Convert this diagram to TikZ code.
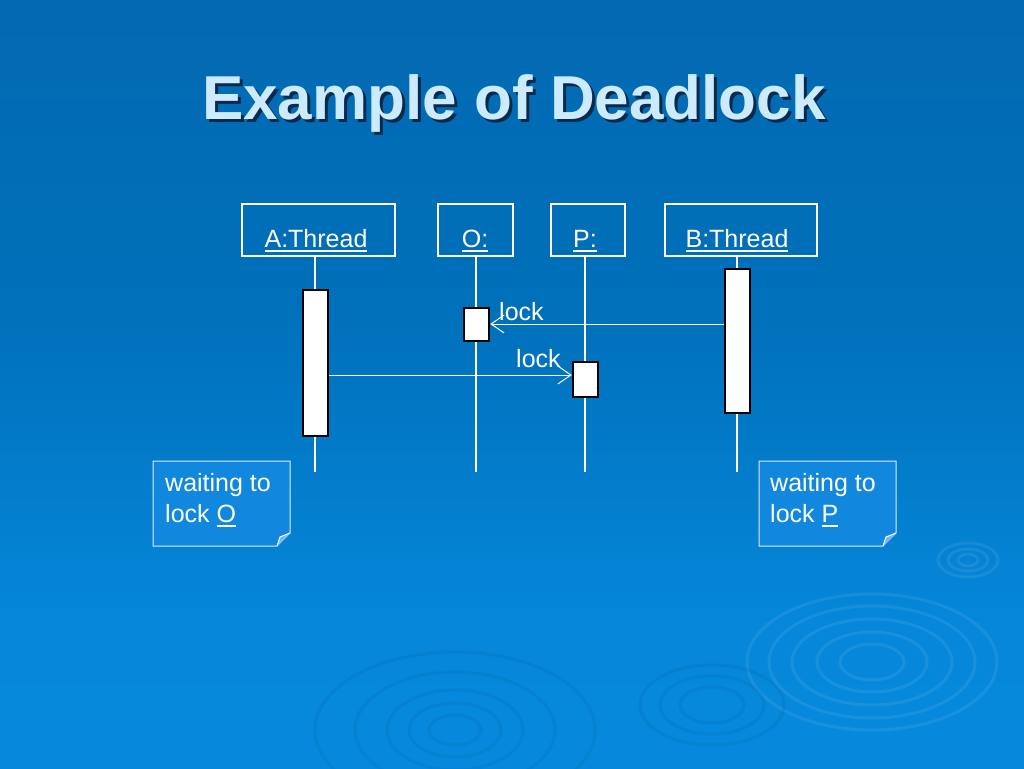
\documentclass[tikz,border=0pt]{standalone}
\usepackage{fontspec}
\setmainfont{Liberation Sans}
\usetikzlibrary{arrows.meta}
\definecolor{bgtop}{HTML}{0562A8}
\definecolor{bgmid}{HTML}{0070BA}
\definecolor{bgbot}{HTML}{0890E6}
\definecolor{notefill}{HTML}{1188DD}
\definecolor{titlecol}{HTML}{CDEBFF}
\definecolor{titleshadow}{HTML}{0A2A4A}
\pgfdeclareverticalshading{slidebg}{100bp}{color(0bp)=(bgbot); color(35bp)=(bgbot!70!bgmid); color(55bp)=(bgmid); color(100bp)=(bgtop)}
\newcommand\myul[1]{\setbox0\hbox{#1}\rlap{\rule[-4.5pt]{\wd0}{1.6pt}}\box0}
\newcommand\shadowed[1]{\rlap{\hspace{3pt}\raisebox{-3pt}{\color{titleshadow}#1}}#1}
\tikzset{
  lifebox/.style={draw=white, line width=2.5pt, minimum height=52pt, inner sep=0pt},
  lifetext/.style={text=white, font=\fontsize{25}{29}\selectfont, anchor=base, inner sep=0pt},
  lifeline/.style={draw=white, line width=2pt},
  actbox/.style={draw=black, fill=white, line width=2.5pt, minimum width=25pt, inner sep=0pt},
  msg/.style={draw=white, line width=1pt, -{Straight Barb[length=13pt,width=18pt,line width=1pt]}},
  msglabel/.style={text=white, font=\fontsize{25}{29}\selectfont, inner sep=0pt},
  notebox/.style={fill=notefill, draw=white!85!notefill, line width=1pt},
  notetext/.style={text=white, font=\fontsize{25}{31}\selectfont, align=left, inner sep=0pt, anchor=base west},
  ripple/.style={draw=white, opacity=0.08, line width=3pt},
  rippled/.style={draw=black, opacity=0.05, line width=3pt}
}
\begin{document}
\begin{tikzpicture}[x=1pt,y=-1pt]
\useasboundingbox (0,0) rectangle (1024,768);
\shade[shading=slidebg] (0,0) rectangle (1024,768);
% ripples
\foreach \rx/\ry in {30/17,20/11,10/6}{\draw[ripple] (968,560) ellipse ({\rx} and {\ry});}
\foreach \rx/\ry in {125/68,103/56,80/43,55/30,32/18}{\draw[ripple] (872,662) ellipse ({\rx} and {\ry});}
\foreach \rx/\ry in {72/40,52/29,32/18}{\draw[rippled] (712,705) ellipse ({\rx} and {\ry});}
\foreach \rx/\ry in {140/78,100/58,68/40,46/27,26/15}{\draw[rippled] (455,730) ellipse ({\rx} and {\ry});}
% title
\node[text=titlecol, font=\bfseries\fontsize{62}{70}\selectfont, anchor=base, inner sep=0pt] (title) at (514,119) {\shadowed{Example of Deadlock}};
% lifeline heads
\node[lifebox, minimum width=153pt] (A) at (318.5,230) {};
\node[lifebox, minimum width=75pt] (O) at (475.5,230) {};
\node[lifebox, minimum width=74pt] (P) at (588,230) {};
\node[lifebox, minimum width=152pt] (B) at (741,230) {};
\node[lifetext] (At) at (316,247) {\myul{A:Thread}};
\node[lifetext] (Ot) at (475,247) {\myul{O:}};
\node[lifetext] (Pt) at (585,247) {\myul{P:}};
\node[lifetext] (Bt) at (737,247) {\myul{B:Thread}};
% lifeline ends
\coordinate (Ae) at (315,472);
\coordinate (Oe) at (476,472);
\coordinate (Pe) at (585,472);
\coordinate (Be) at (737,472);
\draw[lifeline] (315,256) -- (Ae);
\draw[lifeline] (476,256) -- (Oe);
\draw[lifeline] (585,256) -- (Pe);
\draw[lifeline] (737,256) -- (Be);
% activations
\node[actbox, minimum height=146pt] (Aact) at (315.5,363) {};
\node[actbox, minimum height=33pt] (Oact) at (476.5,324.5) {};
\node[actbox, minimum height=35pt] (Pact) at (585.5,379.5) {};
\node[actbox, minimum height=144pt] (Bact) at (737.5,341) {};
% messages
\draw[msg] (Bact.west |- 0,324) -- (Oact.east |- 0,324);
\node[msglabel, anchor=base west] (l1) at (499,320) {lock};
\draw[msg] (Aact.east |- 0,375) -- (Pact.west |- 0,375);
\node[msglabel, anchor=base west] (l2) at (516,367) {lock};
% notes
\draw[notebox] (153,461) -- (290,461) -- (290,533) -- (277,546) -- (153,546) -- cycle;
\draw[draw=white, line width=1pt, fill=notefill!60!white] (277,546) -- (280,537) -- (290,533);
\node[notetext] (n1) at (165,522) {waiting to\\lock \myul{O}};
\draw[notebox] (759,461) -- (896,461) -- (896,533) -- (883,546) -- (759,546) -- cycle;
\draw[draw=white, line width=1pt, fill=notefill!60!white] (883,546) -- (886,537) -- (896,533);
\node[notetext] (n2) at (770,522) {waiting to\\lock \myul{P}};
\end{tikzpicture}
\end{document}
